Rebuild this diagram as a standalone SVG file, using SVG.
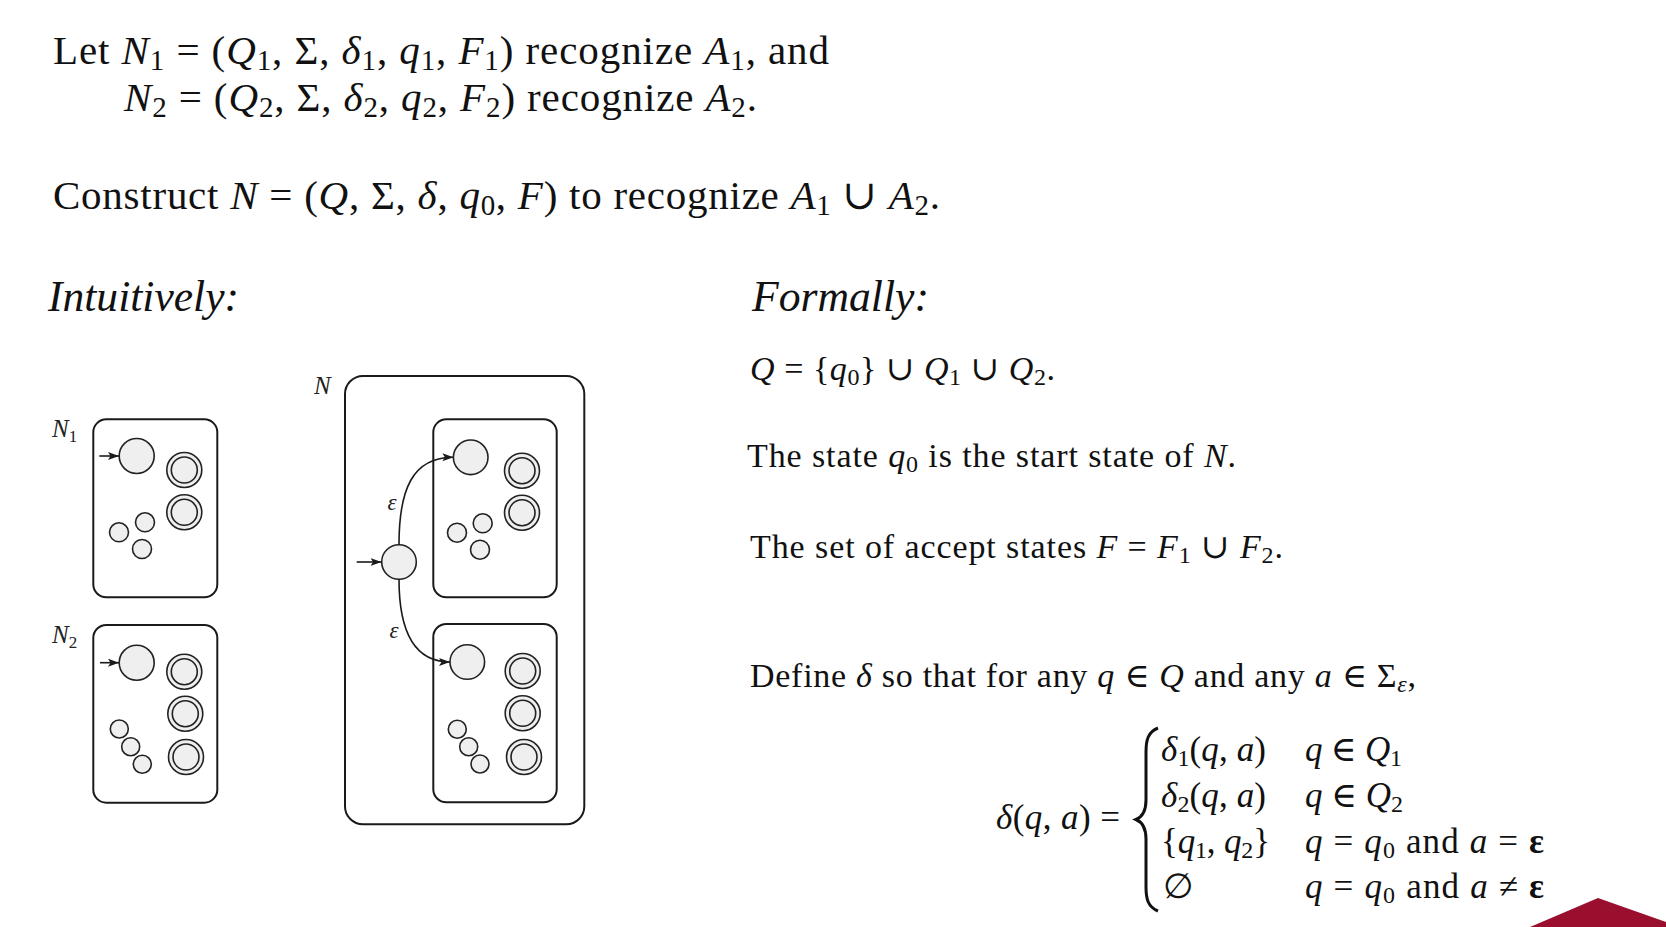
<svg xmlns="http://www.w3.org/2000/svg" width="1666" height="927" viewBox="0 0 1666 927">
<style>
.t{font-family:"Liberation Serif","DejaVu Serif",serif;fill:#111}
.i{font-style:italic}
.box{fill:#fff;stroke:#1a1a1a;stroke-width:2}
.st{fill:#efefef;stroke:#222;stroke-width:1.6}
.edge{fill:none;stroke:#1a1a1a;stroke-width:1.6}
.lbl{font-family:"Liberation Serif","DejaVu Serif",serif;font-style:italic;fill:#222}
</style>
<defs>
<marker id="ah" markerWidth="12" markerHeight="10" refX="11" refY="4" orient="auto" markerUnits="userSpaceOnUse">
<path d="M0,0 L11,4 L0,8 L2.5,4 Z" fill="#1a1a1a"/>
</marker>
</defs>
<rect width="1666" height="927" fill="#fff"/>

<g id="text-top" class="t" font-size="41">
<text x="53" y="64" textLength="776" lengthAdjust="spacing">Let <tspan class="i">N</tspan><tspan font-size="29" dy="6">1</tspan><tspan dy="-6"> = (</tspan><tspan class="i">Q</tspan><tspan font-size="29" dy="6">1</tspan><tspan dy="-6">, Σ, </tspan><tspan class="i">δ</tspan><tspan font-size="29" dy="6">1</tspan><tspan dy="-6">, </tspan><tspan class="i">q</tspan><tspan font-size="29" dy="6">1</tspan><tspan dy="-6">, </tspan><tspan class="i">F</tspan><tspan font-size="29" dy="6">1</tspan><tspan dy="-6">) recognize </tspan><tspan class="i">A</tspan><tspan font-size="29" dy="6">1</tspan><tspan dy="-6">, and</tspan></text>
<text x="124" y="111" textLength="633" lengthAdjust="spacing"><tspan class="i">N</tspan><tspan font-size="29" dy="6">2</tspan><tspan dy="-6"> = (</tspan><tspan class="i">Q</tspan><tspan font-size="29" dy="6">2</tspan><tspan dy="-6">, Σ, </tspan><tspan class="i">δ</tspan><tspan font-size="29" dy="6">2</tspan><tspan dy="-6">, </tspan><tspan class="i">q</tspan><tspan font-size="29" dy="6">2</tspan><tspan dy="-6">, </tspan><tspan class="i">F</tspan><tspan font-size="29" dy="6">2</tspan><tspan dy="-6">) recognize </tspan><tspan class="i">A</tspan><tspan font-size="29" dy="6">2</tspan><tspan dy="-6">.</tspan></text>
<text x="53" y="209" textLength="887" lengthAdjust="spacing">Construct <tspan class="i">N</tspan> = (<tspan class="i">Q</tspan>, Σ, <tspan class="i">δ</tspan>, <tspan class="i">q</tspan><tspan font-size="29" dy="6">0</tspan><tspan dy="-6">, </tspan><tspan class="i">F</tspan>) to recognize <tspan class="i">A</tspan><tspan font-size="29" dy="6">1</tspan><tspan dy="-6"> ∪ </tspan><tspan class="i">A</tspan><tspan font-size="29" dy="6">2</tspan><tspan dy="-6">.</tspan></text>
</g>

<g id="headings" class="t i" font-size="44">
<text x="48" y="311" textLength="191" lengthAdjust="spacingAndGlyphs">Intuitively:</text>
<text x="752" y="311" textLength="177" lengthAdjust="spacingAndGlyphs">Formally:</text>
</g>

<g id="formal-text" class="t" font-size="34">
<text x="750" y="380" textLength="305" lengthAdjust="spacing"><tspan class="i">Q</tspan> = {<tspan class="i">q</tspan><tspan font-size="24" dy="5">0</tspan><tspan dy="-5">} ∪ </tspan><tspan class="i">Q</tspan><tspan font-size="24" dy="5">1</tspan><tspan dy="-5"> ∪ </tspan><tspan class="i">Q</tspan><tspan font-size="24" dy="5">2</tspan><tspan dy="-5">.</tspan></text>
<text x="747" y="467" textLength="489" lengthAdjust="spacing">The state <tspan class="i">q</tspan><tspan font-size="24" dy="5">0</tspan><tspan dy="-5"> is the start state of </tspan><tspan class="i">N</tspan>.</text>
<text x="750" y="558" textLength="533" lengthAdjust="spacing">The set of accept states <tspan class="i">F</tspan> = <tspan class="i">F</tspan><tspan font-size="24" dy="5">1</tspan><tspan dy="-5"> ∪ </tspan><tspan class="i">F</tspan><tspan font-size="24" dy="5">2</tspan><tspan dy="-5">.</tspan></text>
<text x="750" y="687" textLength="666" lengthAdjust="spacing">Define <tspan class="i">δ</tspan> so that for any <tspan class="i">q</tspan> ∈ <tspan class="i">Q</tspan> and any <tspan class="i">a</tspan> ∈ Σ<tspan font-size="24" dy="5" class="i">ε</tspan><tspan dy="-5">,</tspan></text>
</g>

<g id="piecewise" class="t" font-size="35">
<text x="996" y="829" textLength="124" lengthAdjust="spacing"><tspan class="i">δ</tspan>(<tspan class="i">q</tspan>, <tspan class="i">a</tspan>) =</text>
<path d="M1158,728 C1148,732 1146,740 1146,752 L1146,800 C1146,812 1142,817 1136,819.5 C1142,822 1146,827 1146,839 L1146,887 C1146,899 1148,907 1158,911" fill="none" stroke="#111" stroke-width="3"/>
<text x="1161" y="761" textLength="105" lengthAdjust="spacing"><tspan class="i">δ</tspan><tspan font-size="24" dy="5">1</tspan><tspan dy="-5">(</tspan><tspan class="i">q</tspan>, <tspan class="i">a</tspan>)</text>
<text x="1305" y="761" textLength="97" lengthAdjust="spacing"><tspan class="i">q</tspan> ∈ <tspan class="i">Q</tspan><tspan font-size="24" dy="5">1</tspan></text>
<text x="1161" y="807" textLength="105" lengthAdjust="spacing"><tspan class="i">δ</tspan><tspan font-size="24" dy="5">2</tspan><tspan dy="-5">(</tspan><tspan class="i">q</tspan>, <tspan class="i">a</tspan>)</text>
<text x="1305" y="807" textLength="98" lengthAdjust="spacing"><tspan class="i">q</tspan> ∈ <tspan class="i">Q</tspan><tspan font-size="24" dy="5">2</tspan></text>
<text x="1161" y="853" textLength="109" lengthAdjust="spacing">{<tspan class="i">q</tspan><tspan font-size="24" dy="5">1</tspan><tspan dy="-5">, </tspan><tspan class="i">q</tspan><tspan font-size="24" dy="5">2</tspan><tspan dy="-5">}</tspan></text>
<text x="1305" y="853" textLength="239" lengthAdjust="spacing"><tspan class="i">q</tspan> = <tspan class="i">q</tspan><tspan font-size="24" dy="5">0</tspan><tspan dy="-5"> and </tspan><tspan class="i">a</tspan> = <tspan font-weight="bold">ε</tspan></text>
<text x="1163" y="898">∅</text>
<text x="1305" y="898" textLength="239" lengthAdjust="spacing"><tspan class="i">q</tspan> = <tspan class="i">q</tspan><tspan font-size="24" dy="5">0</tspan><tspan dy="-5"> and </tspan><tspan class="i">a</tspan> ≠ <tspan font-weight="bold">ε</tspan></text>
</g>

<polygon id="corner" points="1530,927 1598,898 1666,922 1666,927" fill="#9a0f2e"/>

<g id="N1">
<text class="lbl" x="52" y="437" font-size="25">N<tspan font-size="17" dy="5" font-style="normal">1</tspan></text>
<rect class="box" x="93.3" y="419.3" width="124" height="178" rx="13"/>
<circle class="st" cx="136.7" cy="456" r="17.5"/>
<circle class="st" cx="184.3" cy="470" r="17.5"/><circle class="st" cx="184.3" cy="470" r="13"/>
<circle class="st" cx="184.3" cy="512.3" r="17.5"/><circle class="st" cx="184.3" cy="512.3" r="13"/>
<circle class="st" cx="119" cy="532.3" r="9.5"/>
<circle class="st" cx="145" cy="522.3" r="9.5"/>
<circle class="st" cx="142" cy="549" r="9.5"/>
</g>

<g id="N2">
<text class="lbl" x="52" y="643" font-size="25">N<tspan font-size="17" dy="5" font-style="normal">2</tspan></text>
<rect class="box" x="93.3" y="625" width="124" height="177.7" rx="13"/>
<circle class="st" cx="136.7" cy="662.7" r="17.5"/>
<circle class="st" cx="184.3" cy="671.7" r="17.5"/><circle class="st" cx="184.3" cy="671.7" r="13"/>
<circle class="st" cx="185.3" cy="713.7" r="17.5"/><circle class="st" cx="185.3" cy="713.7" r="13"/>
<circle class="st" cx="186" cy="757" r="17.5"/><circle class="st" cx="186" cy="757" r="13"/>
<circle class="st" cx="119.3" cy="729" r="9"/>
<circle class="st" cx="130.7" cy="746.7" r="9"/>
<circle class="st" cx="142.3" cy="764.3" r="9"/>
</g>

<g id="N">
<text class="lbl" x="314" y="394" font-size="25">N</text>
<rect class="box" x="345" y="376" width="239.3" height="448.3" rx="18"/>
</g>

<g id="N-sub1">
<rect class="box" x="433.3" y="419.3" width="123.4" height="178" rx="13"/>
<circle class="st" cx="470.7" cy="457.3" r="17.3"/>
<circle class="st" cx="522" cy="470.7" r="17.5"/><circle class="st" cx="522" cy="470.7" r="13"/>
<circle class="st" cx="522" cy="512.7" r="17.5"/><circle class="st" cx="522" cy="512.7" r="13"/>
<circle class="st" cx="457" cy="532.7" r="9.5"/>
<circle class="st" cx="482.7" cy="523.3" r="9.5"/>
<circle class="st" cx="480" cy="549.7" r="9.5"/>
</g>

<g id="N-sub2">
<rect class="box" x="433.3" y="624" width="123.4" height="178.3" rx="13"/>
<circle class="st" cx="467.3" cy="662" r="17.3"/>
<circle class="st" cx="522.7" cy="671" r="17.5"/><circle class="st" cx="522.7" cy="671" r="13"/>
<circle class="st" cx="522.7" cy="713.3" r="17.5"/><circle class="st" cx="522.7" cy="713.3" r="13"/>
<circle class="st" cx="524" cy="757" r="17.5"/><circle class="st" cx="524" cy="757" r="13"/>
<circle class="st" cx="457.3" cy="729.3" r="9"/>
<circle class="st" cx="468.7" cy="746.7" r="9"/>
<circle class="st" cx="480" cy="764" r="9"/>
</g>

<g id="q0">
<circle class="st" cx="399" cy="562" r="17.3"/>
</g>

<g id="connectors">
<line class="edge" x1="99.3" y1="456" x2="119" y2="456" marker-end="url(#ah)"/>
<line class="edge" x1="100" y1="662.7" x2="119" y2="662.7" marker-end="url(#ah)"/>
<line class="edge" x1="356.7" y1="562" x2="381.5" y2="562" marker-end="url(#ah)"/>
<path class="edge" d="M399,544.7 C399,490 412,457.3 453.4,457.3" marker-end="url(#ah)"/>
<path class="edge" d="M399,579.3 C399,630 413,662 450,662" marker-end="url(#ah)"/>
<text class="lbl" x="392" y="510" font-size="23" text-anchor="middle">ε</text>
<text class="lbl" x="394" y="638" font-size="23" text-anchor="middle">ε</text>
</g>
</svg>
